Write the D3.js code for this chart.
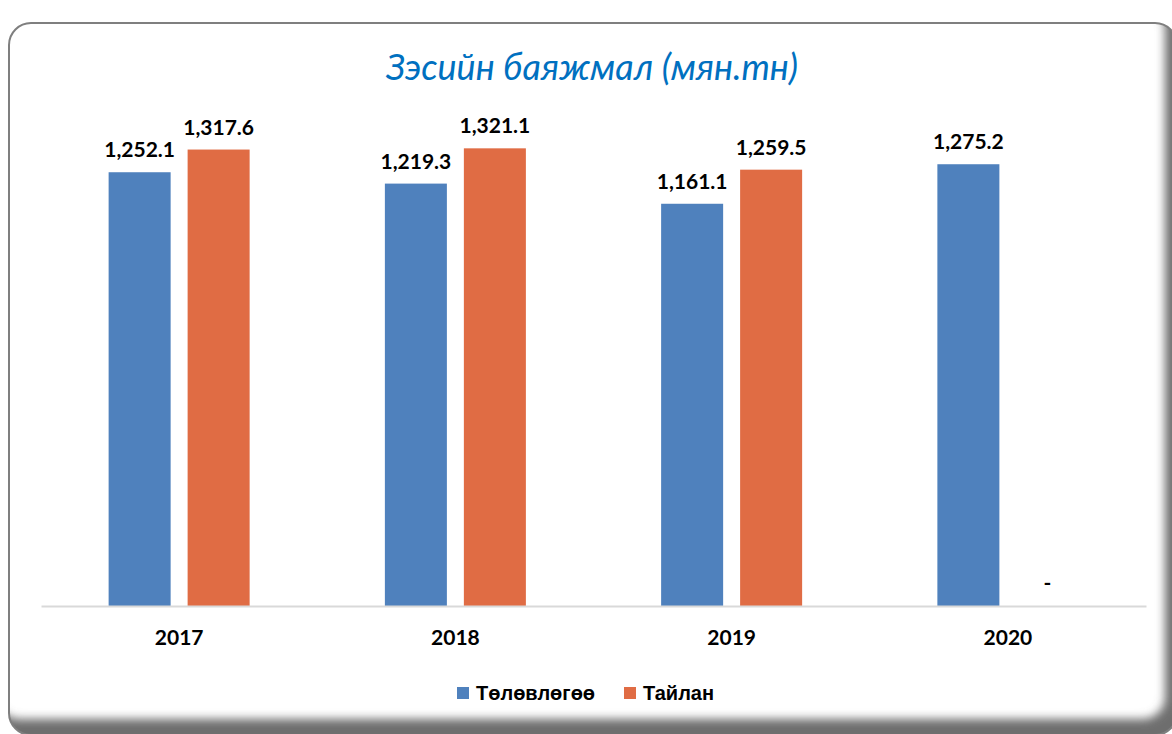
<!DOCTYPE html>
<html>
<head>
<meta charset="utf-8">
<script src="https://cdn.jsdelivr.net/npm/d3@7"></script>
<style>
  html, body { margin: 0; padding: 0; background: #fff; }
  svg { display: block; }
</style>
</head>
<body>
<script>
// data
var years = ["2017", "2018", "2019", "2020"];
var plan = [1252.1, 1219.3, 1161.1, 1275.2];      // Төлөвлөгөө
var report = [1317.6, 1321.1, 1259.5, null];      // Тайлан
var seriesNames = ["Төлөвлөгөө", "Тайлан"];
var colors = ["#4f81bd", "#e06c44"];

var width = 1172,
    height = 734;

var svg = d3.select("body").append("svg")
    .attr("width", width)
    .attr("height", height);

var defs = svg.append("defs");

// frame: rounded box with a soft inner shadow bottom/right
var box = { x: 9, y: 23, w: 1168, h: 712, r: 22 };
defs.append("clipPath").attr("id", "boxclip")
  .append("rect")
    .attr("x", box.x).attr("y", box.y)
    .attr("width", box.w).attr("height", box.h)
    .attr("rx", box.r);
var blur = defs.append("filter").attr("id", "blur")
    .attr("x", "-10%").attr("y", "-10%").attr("width", "120%").attr("height", "120%");
blur.append("feGaussianBlur").attr("stdDeviation", 5);

svg.append("rect")
    .attr("x", box.x).attr("y", box.y)
    .attr("width", box.w).attr("height", box.h)
    .attr("rx", box.r)
    .attr("fill", "#fff");

var sh = svg.append("g").attr("clip-path", "url(#boxclip)");
var ox = box.x - 12, oy = box.y - 16;
sh.append("path")
    .attr("fill", "#6e6e6e")
    .attr("fill-rule", "evenodd")
    .attr("filter", "url(#blur)")
    .attr("d",
      "M-50,-50H" + (width + 100) + "V" + (height + 100) + "H-50Z" +
      "M" + (ox + box.r) + "," + oy +
      "H" + (ox + box.w - box.r) +
      "A" + box.r + "," + box.r + " 0 0 1 " + (ox + box.w) + "," + (oy + box.r) +
      "V" + (oy + box.h - box.r) +
      "A" + box.r + "," + box.r + " 0 0 1 " + (ox + box.w - box.r) + "," + (oy + box.h) +
      "H" + (ox + box.r) +
      "A" + box.r + "," + box.r + " 0 0 1 " + ox + "," + (oy + box.h - box.r) +
      "V" + (oy + box.r) +
      "A" + box.r + "," + box.r + " 0 0 1 " + (ox + box.r) + "," + oy + "Z");

svg.append("rect")
    .attr("x", box.x).attr("y", box.y)
    .attr("width", box.w).attr("height", box.h)
    .attr("rx", box.r)
    .attr("fill", "none")
    .attr("stroke", "#7f7f7f")
    .attr("stroke-width", 2);

// title
svg.append("text")
    .attr("x", 592)
    .attr("y", 80)
    .attr("text-anchor", "middle")
    .style("font-family", "Lato, 'Open Sans', sans-serif")
    .style("font-style", "italic")
    .style("font-size", "36px")
    .style("fill", "#0070c0")
    .text("Зэсийн баяжмал (мян.тн)");

// scales
var x0 = d3.scaleBand()
    .domain(years)
    .range([41, 1146]);

var x1 = d3.scaleBand()
    .domain([0, 1])
    .range([0, 141])
    .paddingInner(0.215);

var y = d3.scaleLinear()
    .domain([0, 1400])
    .range([606, 121]);

var rows = years.map(function(yr, i) {
  return { year: yr, vals: [plan[i], report[i]] };
});

var groups = svg.selectAll(".grp")
    .data(rows)
  .enter().append("g")
    .attr("class", "grp")
    .attr("transform", function(d) {
      return "translate(" + (x0(d.year) + (x0.bandwidth() - 141) / 2) + ",0)";
    });

groups.selectAll("rect")
    .data(function(d) { return d.vals.map(function(v, k) { return { k: k, v: v }; }); })
  .enter().filter(function(d) { return d.v != null; })
  .append("rect")
    .attr("x", function(d) { return x1(d.k); })
    .attr("width", x1.bandwidth())
    .attr("y", function(d) { return y(d.v); })
    .attr("height", function(d) { return y(0) - y(d.v); })
    .attr("fill", function(d) { return colors[d.k]; });

var fmt = d3.format(",.1f");
groups.selectAll("text")
    .data(function(d) { return d.vals.map(function(v, k) { return { k: k, v: v }; }); })
  .enter().append("text")
    .attr("x", function(d) { return x1(d.k) + x1.bandwidth() / 2; })
    .attr("y", function(d) { return d.v == null ? y(0) - 16 : y(d.v) - 15; })
    .attr("text-anchor", "middle")
    .style("font-family", "Lato, 'Open Sans', sans-serif")
    .style("font-weight", "bold")
    .style("font-size", "21px")
    .style("fill", "#000")
    .text(function(d) { return d.v == null ? "-" : fmt(d.v); });

// x axis
var xAxis = svg.append("g")
    .attr("transform", "translate(0," + y(0) + ")")
    .call(d3.axisBottom(x0).tickSize(0).tickPadding(24));
xAxis.select(".domain").attr("stroke", "#d9d9d9").attr("stroke-width", 2);
xAxis.selectAll("text")
    .style("font-family", "Lato, 'Open Sans', sans-serif")
    .style("font-weight", "bold")
    .style("font-size", "21px")
    .style("fill", "#000");

// legend
var legend = svg.append("g").attr("transform", "translate(457,693)");
var lx = [0, 167];
seriesNames.forEach(function(name, i) {
  var g = legend.append("g").attr("transform", "translate(" + lx[i] + ",0)");
  g.append("rect")
      .attr("x", 0).attr("y", -6)
      .attr("width", 12).attr("height", 12)
      .attr("fill", colors[i]);
  g.append("text")
      .attr("x", 19).attr("y", 7)
      .style("font-family", "'Liberation Sans', Arial, sans-serif")
      .style("font-weight", "bold")
      .style("font-size", "20px")
      .style("fill", "#000")
      .text(name);
});
</script>
</body>
</html>
